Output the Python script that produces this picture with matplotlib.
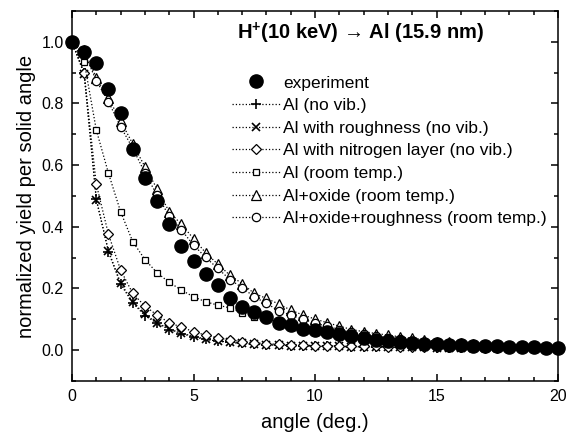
import matplotlib
matplotlib.use("Agg")
import matplotlib.pyplot as plt
from matplotlib.ticker import MultipleLocator

plt.rcParams['font.family'] = ['Liberation Sans', 'DejaVu Sans']
plt.rcParams['mathtext.fontset'] = 'custom'
plt.rcParams['mathtext.rm'] = 'Liberation Sans'
plt.rcParams['mathtext.bf'] = 'Liberation Sans:bold'

# angle grid (deg.)
angle = [0, 0.5, 1, 1.5, 2, 2.5, 3, 3.5, 4, 4.5, 5, 5.5, 6, 6.5, 7, 7.5, 8, 8.5, 9, 9.5,
         10, 10.5, 11, 11.5, 12, 12.5, 13, 13.5, 14, 14.5, 15, 15.5, 16, 16.5, 17, 17.5,
         18, 18.5, 19, 19.5, 20]

experiment = [1.0, 0.968, 0.93, 0.846, 0.77, 0.652, 0.557, 0.485, 0.408, 0.339, 0.289,
              0.247, 0.212, 0.169, 0.141, 0.124, 0.108, 0.087, 0.08, 0.07, 0.064, 0.058,
              0.052, 0.045, 0.039, 0.034, 0.029, 0.026, 0.023, 0.021, 0.019, 0.017, 0.016,
              0.014, 0.013, 0.012, 0.011, 0.01, 0.009, 0.008, 0.007]

al_novib = [1.0, 0.90, 0.491, 0.319, 0.214, 0.153, 0.112, 0.087, 0.067, 0.054, 0.043,
            0.035, 0.029, 0.025, 0.022, 0.019, 0.017, 0.016, 0.015, 0.014, 0.013, 0.012,
            0.012, 0.011, 0.011, 0.010, 0.010, 0.009, 0.009, 0.009, 0.008, 0.008, 0.008,
            0.007, 0.007, 0.007, 0.006, 0.006, 0.006, 0.006, 0.005]

al_rough = [1.0, 0.895, 0.487, 0.322, 0.218, 0.156, 0.116, 0.089, 0.069, 0.055, 0.045,
            0.036, 0.030, 0.026, 0.022, 0.020, 0.018, 0.016, 0.015, 0.014, 0.013, 0.012,
            0.012, 0.011, 0.011, 0.010, 0.010, 0.009, 0.009, 0.009, 0.008, 0.008, 0.008,
            0.007, 0.007, 0.007, 0.006, 0.006, 0.006, 0.006, 0.005]

al_nitrogen = [1.0, 0.898, 0.538, 0.376, 0.26, 0.184, 0.143, 0.114, 0.089, 0.075, 0.06,
               0.049, 0.040, 0.033, 0.028, 0.024, 0.021, 0.019, 0.017, 0.016, 0.015, 0.014,
               0.013, 0.013, 0.012, 0.012, 0.011, 0.011, 0.010, 0.010, 0.010, 0.009, 0.009,
               0.009, 0.008, 0.008, 0.008, 0.007, 0.007, 0.007, 0.006]

al_room = [1.0, 0.936, 0.714, 0.574, 0.449, 0.352, 0.294, 0.251, 0.22, 0.195, 0.173,
           0.157, 0.146, 0.137, 0.122, 0.108, 0.097, 0.089, 0.081, 0.073, 0.065, 0.058,
           0.052, 0.046, 0.041, 0.037, 0.033, 0.030, 0.027, 0.024, 0.022, 0.020, 0.018,
           0.016, 0.015, 0.013, 0.012, 0.011, 0.010, 0.009, 0.008]

al_oxide = [1.0, 0.975, 0.882, 0.817, 0.744, 0.669, 0.595, 0.523, 0.449, 0.408, 0.362,
            0.316, 0.279, 0.243, 0.216, 0.184, 0.168, 0.150, 0.130, 0.114, 0.101, 0.089,
            0.078, 0.067, 0.060, 0.054, 0.049, 0.043, 0.038, 0.034, 0.028, 0.025, 0.022,
            0.020, 0.018, 0.016, 0.014, 0.013, 0.012, 0.011, 0.010]

al_oxide_rough = [1.0, 0.965, 0.874, 0.806, 0.725, 0.655, 0.575, 0.503, 0.435, 0.39, 0.341,
                  0.301, 0.265, 0.229, 0.203, 0.173, 0.152, 0.128, 0.114, 0.100, 0.088,
                  0.077, 0.067, 0.058, 0.051, 0.045, 0.040, 0.035, 0.031, 0.027, 0.024,
                  0.021, 0.019, 0.017, 0.015, 0.013, 0.012, 0.011, 0.010, 0.009, 0.008]

fig = plt.figure(figsize=(5.74, 4.37), dpi=100)
ax = fig.add_axes([72/574, 1-381/437, 486/574, 370/437])

ln = dict(color='black', linestyle=':', linewidth=0.9, clip_on=False)
ax.plot(angle, experiment, 'o', color='black', markersize=9.5, linestyle='none',
        clip_on=False, label='experiment', zorder=3)
ax.plot(angle, al_novib, marker='+', markersize=7, markeredgewidth=1.2,
        label='Al (no vib.)', **ln)
ax.plot(angle, al_rough, marker='x', markersize=5.5, markeredgewidth=1.2,
        label='Al with roughness (no vib.)', **ln)
ax.plot(angle, al_nitrogen, marker='D', markersize=5, markerfacecolor='white',
        markeredgewidth=0.9, label='Al with nitrogen layer (no vib.)', **ln)
ax.plot(angle, al_room, marker='s', markersize=5, markerfacecolor='white',
        markeredgewidth=0.9, label='Al (room temp.)', **ln)
ax.plot(angle, al_oxide, marker='^', markersize=7, markerfacecolor='white',
        markeredgewidth=0.9, label='Al+oxide (room temp.)', **ln)
ax.plot(angle, al_oxide_rough, marker='o', markersize=6, markerfacecolor='white',
        markeredgewidth=0.9, label='Al+oxide+roughness (room temp.)', **ln)

ax.set_xlim(0, 20)
ax.set_ylim(-0.1, 1.1)
ax.xaxis.set_minor_locator(MultipleLocator(1))
ax.yaxis.set_minor_locator(MultipleLocator(0.1))
ax.tick_params(which='both', direction='in', top=True, right=True, width=1.1,
               labelsize=11.5)
ax.tick_params(which='major', length=5, pad=6)
ax.tick_params(which='minor', length=3)
ax.set_yticks([0.0, 0.2, 0.4, 0.6, 0.8, 1.0])
ax.set_yticklabels(['0.0', '0.2', '0.4', '0.6', '0.8', '1.0'])
ax.set_xticks([0, 5, 10, 15, 20])
ax.set_xticklabels(['0', '5', '10', '15', '20'])
for s in ax.spines.values():
    s.set_linewidth(1.1)

ax.set_xlabel('angle (deg.)', fontsize=14.5, labelpad=6)
ax.set_ylabel('normalized yield per solid angle', fontsize=14.5, labelpad=4)

ax.text(0.593, 0.94, r'H$^{\mathbf{+}}$(10 keV) → Al (15.9 nm)',
        transform=ax.transAxes, ha='center', va='center', fontsize=14.5,
        fontweight='bold')

ax.legend(loc='upper left', bbox_to_anchor=(0.329, 0.826), frameon=False,
          fontsize=12.5, handlelength=2.76, handletextpad=0.17, labelspacing=0.43,
          borderpad=0, borderaxespad=0)

fig.savefig('out.png', dpi=100)
